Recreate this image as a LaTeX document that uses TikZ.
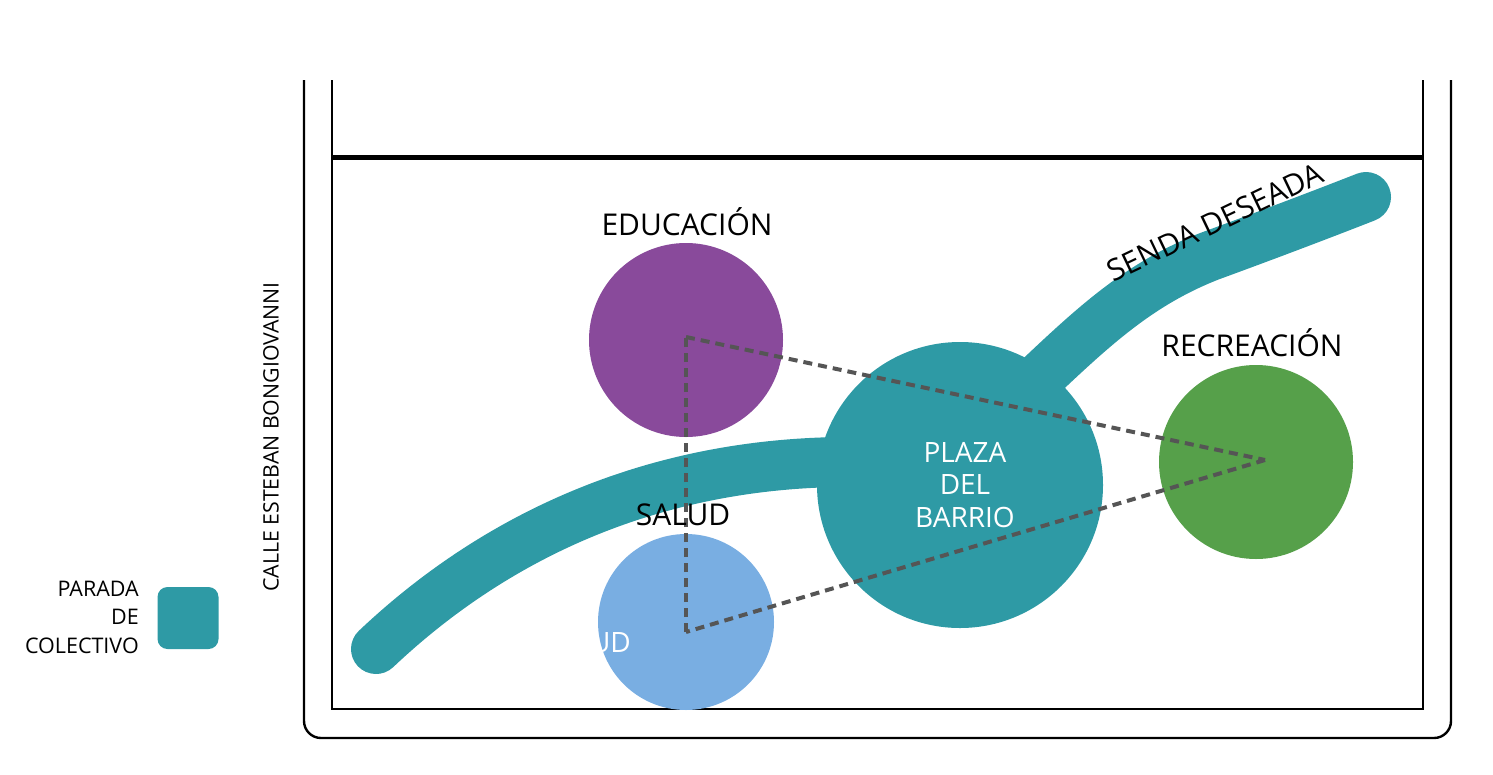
\documentclass[tikz,border=0pt]{standalone}
\usepackage{fontspec}
\setmainfont{Open Sans}
\definecolor{tealc}{HTML}{2E9AA5}
\definecolor{purplec}{HTML}{894A9B}
\definecolor{bluec}{HTML}{79AEE2}
\definecolor{greenc}{HTML}{56A04A}
\definecolor{dashc}{HTML}{555555}
\begin{document}
\begin{tikzpicture}[x=1pt,y=-1pt,
  band/.style={line width=50pt, line cap=round, draw=tealc},
  blob/.style={circle, inner sep=0pt, draw=none},
  lbl/.style={font=\fontsize{30}{36}\selectfont, text=black, inner sep=0pt},
  plazatext/.style={font=\fontsize{28}{32.5}\selectfont, text=white, align=center, inner sep=0pt},
  legendtext/.style={font=\fontsize{21.5}{28.5}\selectfont, text=black, align=right, inner sep=0pt},
  frameline/.style={line width=2.4pt, draw=black},
  tri/.style={draw=dashc, line width=4pt, dash pattern=on 9pt off 6pt}]
\useasboundingbox (0,0) rectangle (1493,774);
% frames
\draw[frameline, rounded corners=17pt] (304,80) -- (304,738) -- (1451,738) -- (1451,80);
\draw[frameline] (332,80) -- (332,709) -- (1423,709) -- (1423,80);
\draw[line width=5pt] (332,157) -- (1423,157);
% paths (senda)
\draw[band] (376,649) .. controls (470,560) and (620,465) .. (840,462);
\draw[band] (1005,410) .. controls (1080,340) and (1128,288) .. (1210,256) .. controls (1270,234) and (1320,215) .. (1366,197);
% circles
\node[blob, fill=purplec, minimum size=194pt] (edu) at (686,340) {};
\node[blob, fill=bluec, minimum size=176pt] (salud) at (686,622) {};
\node[blob, fill=tealc, minimum size=286pt] (plaza) at (960,485) {};
\node[blob, fill=greenc, minimum size=194pt] (rec) at (1256,462) {};
% dashed triangle
\coordinate (te) at (686,337);
\coordinate (tr) at (1265,460);
\coordinate (ts) at (686,632);
\draw[tri] (te) -- (tr);
\draw[tri] (tr) -- (ts);
\draw[tri] (ts) -- (te);
% labels
\node[lbl] (leduc) at (687,222) {EDUCACIÓN};
\node[lbl] (lrec) at (1252,343) {RECREACIÓN};
\node[lbl] (lsal) at (683,515) {SALUD};
\node[lbl, rotate=25.5] (lsenda) at (1215,222) {SENDA DESEADA};
\node[plazatext] (lplaza) at (965,485) {PLAZA\\DEL\\BARRIO};
\node[plazatext, anchor=east] (lud) at (631,643) {UD};
\node[font=\fontsize{21.3}{25}\selectfont, rotate=90, inner sep=0pt] (lcalle) at (271,437) {CALLE ESTEBAN BONGIOVANNI};
% legend
\node[legendtext, anchor=east] (lleg) at (139,617) {PARADA\\DE\\COLECTIVO};
\node[fill=tealc, rounded corners=10pt, minimum width=61pt, minimum height=62pt, inner sep=0pt] (parada) at (188,618) {};
\end{tikzpicture}
\end{document}
